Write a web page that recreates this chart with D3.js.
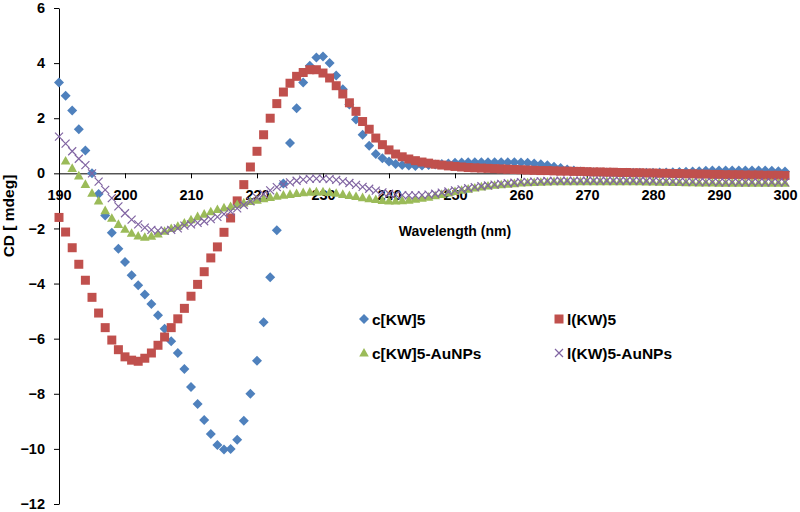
<!DOCTYPE html>
<html>
<head>
<meta charset="utf-8">
<script src="https://cdn.jsdelivr.net/npm/d3@7"></script>
<style>
  body { margin: 0; background: #fff; }
  text { font-family: "Liberation Sans", Arial, sans-serif; font-weight: bold; }
</style>
</head>
<body>
<div id="chart"></div>
<script>
// wavelength categories, 1 nm steps
const wavelengths = d3.range(190, 301);

const seriesNames = ["c[KW]5", "l(KW)5", "c[KW]5-AuNPs", "l(KW)5-AuNPs"];

const cKW5 = [
  3.3, 2.82, 2.28, 1.6, 0.83, 0.0, -0.75, -1.53, -2.16, -2.74,
  -3.22, -3.7, -4.06, -4.4, -4.74, -5.15, -5.64, -6.09, -6.52, -7.1,
  -7.75, -8.37, -8.95, -9.46, -9.86, -10.02, -10.0, -9.67, -8.98, -8.0,
  -6.8, -5.4, -3.77, -2.07, -0.37, 1.1, 2.36, 3.3, 3.9, 4.2,
  4.24, 4.0, 3.55, 3.05, 2.5, 1.95, 1.4, 1.0, 0.7, 0.55,
  0.43, 0.34, 0.3, 0.28, 0.27, 0.28, 0.3, 0.32, 0.34, 0.36,
  0.38, 0.39, 0.4, 0.4, 0.4, 0.4, 0.4, 0.4, 0.4, 0.4,
  0.39, 0.38, 0.36, 0.33, 0.29, 0.24, 0.19, 0.14, 0.1, 0.07,
  0.05, 0.04, 0.03, 0.03, 0.02, 0.02, 0.02, 0.02, 0.02, 0.02,
  0.02, 0.03, 0.03, 0.04, 0.05, 0.06, 0.07, 0.08, 0.09, 0.1,
  0.1, 0.1, 0.1, 0.1, 0.1, 0.1, 0.1, 0.1, 0.09, 0.08,
  0.07
];

const lKW5 = [
  -1.6, -2.13, -2.7, -3.3, -3.88, -4.5, -5.07, -5.6, -6.05, -6.4,
  -6.66, -6.78, -6.82, -6.71, -6.52, -6.24, -5.94, -5.6, -5.28, -4.9,
  -4.46, -4.03, -3.57, -3.07, -2.67, -2.14, -1.62, -1.0, -0.41, 0.23,
  0.8, 1.4, 2.0, 2.53, 2.95, 3.27, 3.52, 3.66, 3.76, 3.76,
  3.64, 3.46, 3.18, 2.88, 2.56, 2.25, 1.88, 1.6, 1.28, 1.04,
  0.85, 0.7, 0.6, 0.52, 0.46, 0.41, 0.37, 0.33, 0.3, 0.27,
  0.25, 0.23, 0.21, 0.2, 0.19, 0.18, 0.17, 0.16, 0.15, 0.14,
  0.13, 0.12, 0.11, 0.1, 0.1, 0.09, 0.08, 0.08, 0.07, 0.07,
  0.06, 0.05, 0.05, 0.04, 0.04, 0.03, 0.03, 0.02, 0.02, 0.01,
  0.01, 0.0, 0.0, -0.01, -0.01, -0.02, -0.02, -0.03, -0.03, -0.04,
  -0.04, -0.05, -0.05, -0.05, -0.06, -0.06, -0.06, -0.07, -0.07, -0.07,
  -0.08
];

const cKW5Au = [
  null, 0.45, 0.18, -0.09, -0.4, -0.72, -1.0, -1.35, -1.63, -1.85,
  -2.03, -2.17, -2.27, -2.32, -2.28, -2.2, -2.1, -2.0, -1.92, -1.8,
  -1.68, -1.57, -1.48, -1.39, -1.31, -1.25, -1.2, -1.13, -1.07, -1.02,
  -0.97, -0.92, -0.87, -0.83, -0.79, -0.76, -0.73, -0.7, -0.68, -0.67,
  -0.67, -0.69, -0.72, -0.76, -0.8, -0.84, -0.88, -0.92, -0.95, -0.98,
  -1.0, -1.0, -0.99, -0.97, -0.94, -0.9, -0.86, -0.81, -0.76, -0.71,
  -0.66, -0.61, -0.57, -0.53, -0.49, -0.46, -0.43, -0.41, -0.39, -0.37,
  -0.35, -0.34, -0.33, -0.32, -0.31, -0.3, -0.3, -0.3, -0.3, -0.3,
  -0.3, -0.3, -0.3, -0.3, -0.3, -0.3, -0.3, -0.3, -0.3, -0.31,
  -0.31, -0.32, -0.32, -0.33, -0.33, -0.34, -0.34, -0.35, -0.35, -0.35,
  -0.36, -0.36, -0.36, -0.36, -0.36, -0.36, -0.36, -0.36, -0.36, -0.36,
  -0.36
];

const lKW5Au = [
  1.33, 1.08, 0.8, 0.53, 0.3, 0.0, -0.3, -0.6, -0.9, -1.2,
  -1.45, -1.68, -1.85, -1.97, -2.05, -2.08, -2.08, -2.05, -2.0, -1.9,
  -1.85, -1.8, -1.74, -1.66, -1.58, -1.48, -1.38, -1.27, -1.15, -1.02,
  -0.88, -0.75, -0.62, -0.5, -0.4, -0.33, -0.27, -0.23, -0.2, -0.19,
  -0.19, -0.21, -0.24, -0.29, -0.35, -0.42, -0.49, -0.56, -0.63, -0.69,
  -0.74, -0.77, -0.79, -0.8, -0.8, -0.79, -0.77, -0.74, -0.7, -0.66,
  -0.62, -0.58, -0.54, -0.5, -0.47, -0.44, -0.41, -0.38, -0.36, -0.34,
  -0.32, -0.31, -0.3, -0.29, -0.28, -0.28, -0.27, -0.27, -0.27, -0.27,
  -0.27, -0.27, -0.27, -0.27, -0.27, -0.27, -0.27, -0.27, -0.27, -0.28,
  -0.28, -0.29, -0.29, -0.3, -0.3, -0.31, -0.31, -0.32, -0.32, -0.32,
  -0.33, -0.33, -0.33, -0.33, -0.33, -0.33, -0.33, -0.33, -0.33, -0.33,
  -0.33
];

const xTicks = d3.range(190, 301, 10);
const yTicks = d3.range(-12, 7, 2);

const width = 800, height = 512;

const svg = d3.select("#chart").append("svg")
    .attr("width", width)
    .attr("height", height);

const x = d3.scaleLinear().domain([190, 300]).range([59, 785]);
const y = d3.scaleLinear().domain([-12, 6]).range([504, 8]);

// marker shapes, Excel style
const markers = {
    diamond: "M0,-5L5,0L0,5L-5,0Z",
    square: "M-4.5,-4.5H4.5V4.5H-4.5Z",
    triangle: "M0,-5L4.8,3.6H-4.8Z",
    cross: "M-4,-4L4,4M-4,4L4,-4"
};

const series = [
    {name: seriesNames[0], values: cKW5, color: "#4F81BD", shape: "diamond"},
    {name: seriesNames[1], values: lKW5, color: "#C0504D", shape: "square"},
    {name: seriesNames[2], values: cKW5Au, color: "#9BBB59", shape: "triangle"},
    {name: seriesNames[3], values: lKW5Au, color: "#8064A2", shape: "cross"}
];

function styleMarker(sel, s) {
    if (s.shape === "cross") {
        sel.attr("fill", "none").attr("stroke", s.color).attr("stroke-width", 1.2);
    } else {
        sel.attr("fill", s.color);
    }
}

// axes
const yAxis = svg.append("g")
    .attr("transform", "translate(" + x(190) + ",0)")
    .call(d3.axisLeft(y).tickValues(yTicks).tickSize(5).tickSizeOuter(0).tickPadding(9));
const xAxis = svg.append("g")
    .attr("transform", "translate(0," + y(0) + ")")
    .call(d3.axisBottom(x).tickValues(xTicks).tickSize(5).tickSizeOuter(0).tickPadding(11));

[xAxis, yAxis].forEach(a => {
    a.selectAll("text").attr("font-size", 14.5).attr("fill", "#000")
        .attr("font-family", "'Liberation Sans', Arial, sans-serif").attr("font-weight", "bold");
    a.selectAll("line, path").attr("stroke", "#000");
});

// points
series.forEach(s => {
    const pts = wavelengths.map((w, i) => ({w: w, v: s.values[i]})).filter(d => d.v !== null);
    svg.append("g").selectAll("path")
        .data(pts)
        .enter().append("path")
        .attr("d", markers[s.shape])
        .attr("transform", d => "translate(" + x(d.w) + "," + y(d.v) + ")")
        .call(sel => styleMarker(sel, s));
});

// axis titles
svg.append("text")
    .attr("x", 455).attr("y", 236)
    .attr("text-anchor", "middle")
    .attr("font-size", 14)
    .text("Wavelength (nm)");

svg.append("text")
    .attr("transform", "translate(14,216) rotate(-90)")
    .attr("text-anchor", "middle")
    .attr("font-size", 15.5)
    .text("CD [ mdeg]");

// legend
const legendPos = [
    {x: 364, y: 319}, {x: 559, y: 319},
    {x: 364, y: 353}, {x: 559, y: 353}
];
const legend = svg.append("g");
series.forEach((s, i) => {
    const p = legendPos[i];
    legend.append("path")
        .attr("d", markers[s.shape])
        .attr("transform", "translate(" + p.x + "," + p.y + ")")
        .call(sel => styleMarker(sel, s));
    legend.append("text")
        .attr("x", p.x + 8).attr("y", p.y + 5.5)
        .attr("font-size", 15.5)
        .text(s.name);
});
</script>
</body>
</html>
